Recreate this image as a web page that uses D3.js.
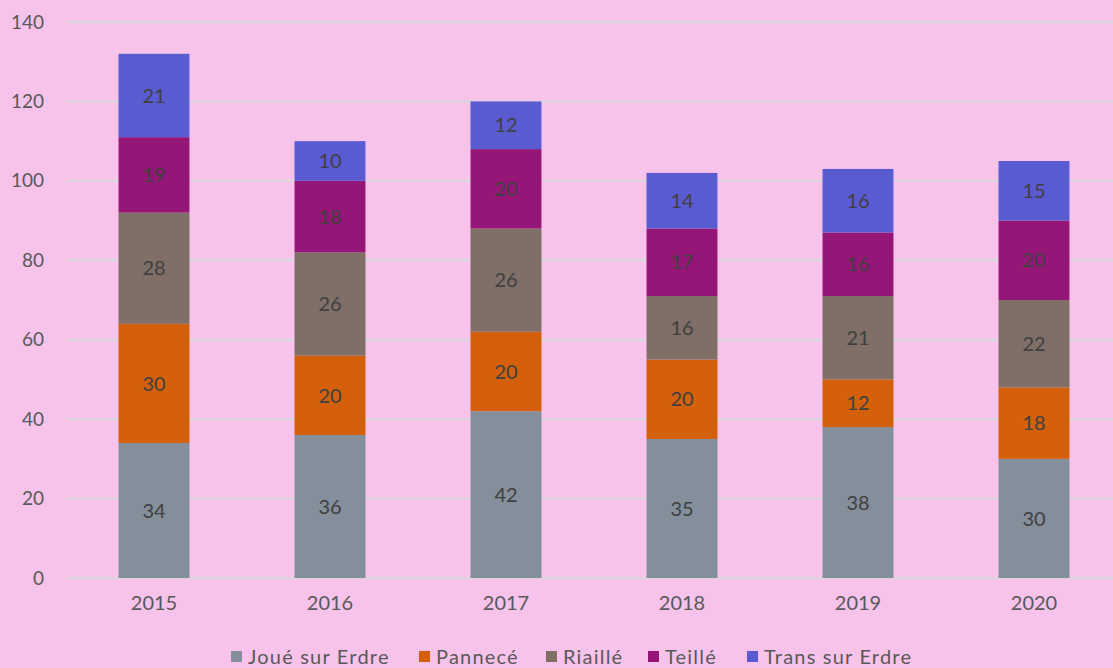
<!DOCTYPE html>
<html>
<head>
<meta charset="utf-8">
<script src="https://cdn.jsdelivr.net/npm/d3@7"></script>
<style>
  html, body { margin: 0; padding: 0; background: #f7c3ea; }
  svg { display: block; }
  text { font-family: Lato, "Open Sans", sans-serif; }
</style>
</head>
<body>
<svg id="chart" width="1113" height="668"></svg>
<script>
const categories = ["2015", "2016", "2017", "2018", "2019", "2020"];
const seriesNames = ["Joué sur Erdre", "Pannecé", "Riaillé", "Teillé", "Trans sur Erdre"];
const joue   = [34, 36, 42, 35, 38, 30];
const pannece = [30, 20, 20, 20, 12, 18];
const riaille = [28, 26, 26, 16, 21, 22];
const teille  = [19, 18, 20, 17, 16, 20];
const trans   = [21, 10, 12, 14, 16, 15];
const yTicks = [0, 20, 40, 60, 80, 100, 120, 140];
const colors = ["#848f9b", "#d5600b", "#7f6f66", "#951676", "#5b5bd1"];

const seriesValues = [joue, pannece, riaille, teille, trans];
const table = categories.map((c, i) => {
  const row = { cat: c };
  seriesNames.forEach((s, j) => row[s] = seriesValues[j][i]);
  return row;
});
const stacked = d3.stack().keys(seriesNames)(table);

const svg = d3.select("#chart");
const x = d3.scaleBand().domain(categories).range([66, 1122]).paddingInner(0.597).paddingOuter(0.2985);
const y = d3.scaleLinear().domain([0, 140]).range([578, 22]);

// gridlines
svg.append("g").selectAll("line").data(yTicks).join("line")
  .attr("x1", 66).attr("x2", 1113)
  .attr("y1", d => y(d)).attr("y2", d => y(d))
  .attr("stroke", "#d9d9d9").attr("stroke-width", 2);

// y axis labels
const yAxis = d3.axisLeft(y).tickValues(yTicks).tickSize(0).tickPadding(0);
const yg = svg.append("g").attr("transform", "translate(44,0)").call(yAxis);
yg.select(".domain").remove();
yg.selectAll("text").attr("fill", "#595959").style("font-size", "19px")
  .style("font-family", "Lato, 'Open Sans', sans-serif");

// bars
const layers = svg.append("g").selectAll("g").data(stacked).join("g")
  .attr("fill", (d, i) => colors[i]);
layers.selectAll("rect").data(d => d).join("rect")
  .attr("x", d => x(d.data.cat))
  .attr("width", x.bandwidth())
  .attr("y", d => y(d[1]))
  .attr("height", d => y(d[0]) - y(d[1]));

// labels
const lab = svg.append("g").selectAll("g").data(stacked).join("g");
lab.selectAll("text").data(d => d.map(v => ({ v, key: d.key }))).join("text")
  .attr("x", d => x(d.v.data.cat) + x.bandwidth() / 2)
  .attr("y", d => (y(d.v[0]) + y(d.v[1])) / 2)
  .attr("dy", "0.36em")
  .attr("text-anchor", "middle")
  .attr("fill", "#404040")
  .style("font-size", "20px")
  .text(d => d.v.data[d.key]);

// x axis labels
const xAxis = d3.axisBottom(x).tickSize(0).tickPadding(0);
const xg = svg.append("g").attr("transform", "translate(0,596)").call(xAxis);
xg.select(".domain").remove();
xg.selectAll("text").attr("fill", "#595959").style("font-size", "20px")
  .style("font-family", "Lato, 'Open Sans', sans-serif");

// legend
const legendX = [231, 419, 546, 648, 747];
const lg = svg.append("g").selectAll("g").data(seriesNames).join("g")
  .attr("transform", (d, i) => `translate(${legendX[i]},0)`);
lg.append("rect").attr("x", 0).attr("y", 651).attr("width", 11).attr("height", 11)
  .attr("fill", (d, i) => colors[i]);
lg.append("text").attr("x", 17).attr("y", 664)
  .attr("fill", "#595959").style("font-size", "20px").style("letter-spacing", "1.2px")
  .text(d => d);
</script>
</body>
</html>
